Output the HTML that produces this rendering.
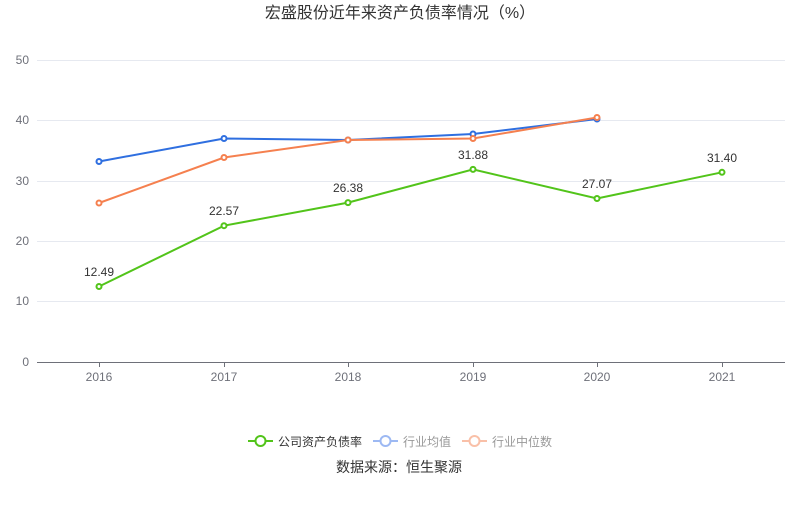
<!DOCTYPE html>
<html><head><meta charset="utf-8"><style>
body{margin:0;background:#fff;}
svg text{font-family:"Liberation Sans","Noto Sans CJK SC",sans-serif;}
</style></head><body>
<svg width="800" height="501" xmlns="http://www.w3.org/2000/svg">
<text x="400" y="18" text-anchor="middle" font-size="16" fill="#333">宏盛股份近年来资产负债率情况（%）</text>
<g stroke="#e6e9f0" stroke-width="1">
<line x1="37" y1="60.5" x2="785" y2="60.5"/><line x1="37" y1="120.5" x2="785" y2="120.5"/>
<line x1="37" y1="181.5" x2="785" y2="181.5"/><line x1="37" y1="241.5" x2="785" y2="241.5"/>
<line x1="37" y1="301.5" x2="785" y2="301.5"/>
</g>
<line x1="37" y1="362.5" x2="785" y2="362.5" stroke="#6e7079"/>
<g stroke="#6e7079"><line x1="99.5" y1="362" x2="99.5" y2="367"/><line x1="224.5" y1="362" x2="224.5" y2="367"/><line x1="348.5" y1="362" x2="348.5" y2="367"/><line x1="473.5" y1="362" x2="473.5" y2="367"/><line x1="597.5" y1="362" x2="597.5" y2="367"/><line x1="722.5" y1="362" x2="722.5" y2="367"/></g>
<g font-size="12" fill="#6e7079" text-anchor="end">
<text x="29" y="64">50</text><text x="29" y="124">40</text><text x="29" y="185">30</text><text x="29" y="245">20</text><text x="29" y="305">10</text><text x="29" y="366">0</text></g>
<g font-size="12" fill="#6e7079" text-anchor="middle">
<text x="99" y="381">2016</text><text x="224" y="381">2017</text><text x="348" y="381">2018</text><text x="473" y="381">2019</text><text x="597" y="381">2020</text><text x="722" y="381">2021</text></g>
<g fill="#fff" stroke-width="2">
<polyline fill="none" stroke="#2f6fe0" points="99,161.5 224,138.5 348,140 473,134 597,119"/>
<g stroke="#2f6fe0"><circle cx="99" cy="161.5" r="2.5"/><circle cx="224" cy="138.5" r="2.5"/><circle cx="348" cy="140" r="2.5"/><circle cx="473" cy="134" r="2.5"/><circle cx="597" cy="119" r="2.5"/></g>
<polyline fill="none" stroke="#f5804f" points="99,203 224,157.5 348,140 473,138.5 597,117.5"/>
<g stroke="#f5804f"><circle cx="99" cy="203" r="2.5"/><circle cx="224" cy="157.5" r="2.5"/><circle cx="348" cy="140" r="2.5"/><circle cx="473" cy="138.5" r="2.5"/><circle cx="597" cy="117.5" r="2.5"/></g>
<polyline fill="none" stroke="#52c41a" points="99,286.5 224,225.7 348,202.6 473,169.4 597,198.5 722,172.3"/>
<g stroke="#52c41a"><circle cx="99" cy="286.5" r="2.5"/><circle cx="224" cy="225.7" r="2.5"/><circle cx="348" cy="202.6" r="2.5"/><circle cx="473" cy="169.4" r="2.5"/><circle cx="597" cy="198.5" r="2.5"/><circle cx="722" cy="172.3" r="2.5"/></g>
</g>
<g font-size="12" fill="#333" text-anchor="middle">
<text x="99" y="276">12.49</text><text x="224" y="215">22.57</text><text x="348" y="192">26.38</text><text x="473" y="159">31.88</text><text x="597" y="188">27.07</text><text x="722" y="162">31.40</text></g>
<g stroke-width="2" fill="#fff">
<line x1="248" y1="441" x2="273" y2="441" stroke="#52c41a"/><circle cx="260.5" cy="441" r="5" stroke="#52c41a"/>
<line x1="373" y1="441" x2="398" y2="441" stroke="#9db9f3"/><circle cx="385.5" cy="441" r="5" stroke="#9db9f3"/>
<line x1="462" y1="441" x2="487" y2="441" stroke="#f9c0a8"/><circle cx="474.5" cy="441" r="5" stroke="#f9c0a8"/>
</g>
<g font-size="12"><text x="278" y="446" fill="#333">公司资产负债率</text><text x="403" y="446" fill="#999">行业均值</text><text x="492" y="446" fill="#999">行业中位数</text></g>
<text x="399" y="472" text-anchor="middle" font-size="14" fill="#333">数据来源：恒生聚源</text>
</svg>
</body></html>
